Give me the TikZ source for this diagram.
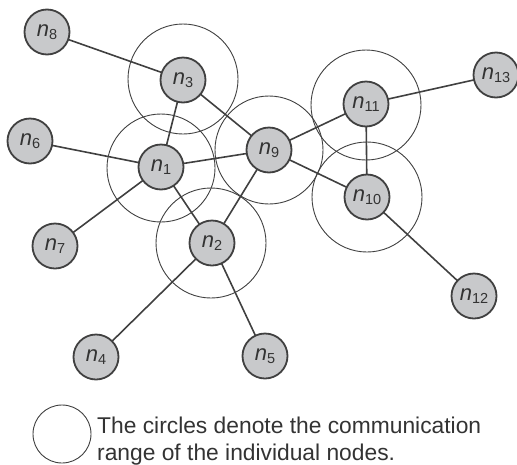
\documentclass[tikz,border=0pt]{standalone}
\usepackage{fontspec}
\setmainfont{Liberation Sans}
\setsansfont{Liberation Sans}
\definecolor{nodefill}{HTML}{C8C9CB}
\definecolor{linecol}{HTML}{404040}
\definecolor{txtcol}{HTML}{333333}
\newcommand{\nlab}[1]{{\fontsize{22}{22}\selectfont\itshape n}{\fontsize{14.5}{14.5}\selectfont\raisebox{-3pt}{#1}}}
\tikzset{
  netnode/.style={circle, draw=linecol, line width=1.8pt, fill=nodefill, minimum size=45pt, inner sep=0pt, text=txtcol, font=\sffamily},
  link/.style={draw=linecol, line width=1.6pt},
  rangecircle/.style={draw=linecol, line width=0.9pt},
}
\begin{document}
\begin{tikzpicture}[x=1pt,y=-1pt]
\useasboundingbox (0,0) rectangle (517,464);
% range circles
\draw[rangecircle] (183,79) circle (55);
\draw[rangecircle] (161,168) circle (54);
\draw[rangecircle] (269,150) circle (54);
\draw[rangecircle] (366,105) circle (55);
\draw[rangecircle] (367,197) circle (55);
\draw[rangecircle] (211,243) circle (55);
% coordinates of nodes
\coordinate (c8) at (47,32);
\coordinate (c3) at (183,80);
\coordinate (c6) at (30,141);
\coordinate (c1) at (161,167);
\coordinate (c9) at (269,150);
\coordinate (c11) at (366,104);
\coordinate (c13) at (496,75);
\coordinate (c10) at (367,197);
\coordinate (c7) at (55,246);
\coordinate (c2) at (212,243);
\coordinate (c12) at (474,296);
\coordinate (c4) at (96,357);
\coordinate (c5) at (265,356);
% links
\draw[link] (c8) -- (c3);
\draw[link] (c3) -- (c1);
\draw[link] (c3) -- (c9);
\draw[link] (c6) -- (c1);
\draw[link] (c1) -- (c9);
\draw[link] (c1) -- (c7);
\draw[link] (c1) -- (c2);
\draw[link] (c9) -- (c2);
\draw[link] (c9) -- (c11);
\draw[link] (c9) -- (c10);
\draw[link] (c11) -- (c10);
\draw[link] (c11) -- (c13);
\draw[link] (c10) -- (c12);
\draw[link] (c2) -- (c4);
\draw[link] (c2) -- (c5);
% nodes
\node[netnode] (n8) at (c8) {\nlab{8}};
\node[netnode] (n3) at (c3) {\nlab{3}};
\node[netnode] (n6) at (c6) {\nlab{6}};
\node[netnode] (n1) at (c1) {\nlab{1}};
\node[netnode] (n9) at (c9) {\nlab{9}};
\node[netnode] (n11) at (c11) {\nlab{11}};
\node[netnode] (n13) at (c13) {\nlab{13}};
\node[netnode] (n10) at (c10) {\nlab{10}};
\node[netnode] (n7) at (c7) {\nlab{7}};
\node[netnode] (n2) at (c2) {\nlab{2}};
\node[netnode] (n12) at (c12) {\nlab{12}};
\node[netnode] (n4) at (c4) {\nlab{4}};
\node[netnode] (n5) at (c5) {\nlab{5}};
% legend
\node[circle, draw=linecol, line width=0.9pt, minimum size=58pt, inner sep=0pt] (legc) at (62,434) {};
\node[anchor=west, align=left, inner sep=0pt, text=txtcol, font=\fontsize{22.8}{27}\selectfont] (legt) at (97,441) {The circles denote the communication\\range of the individual nodes.};
\end{tikzpicture}
\end{document}
